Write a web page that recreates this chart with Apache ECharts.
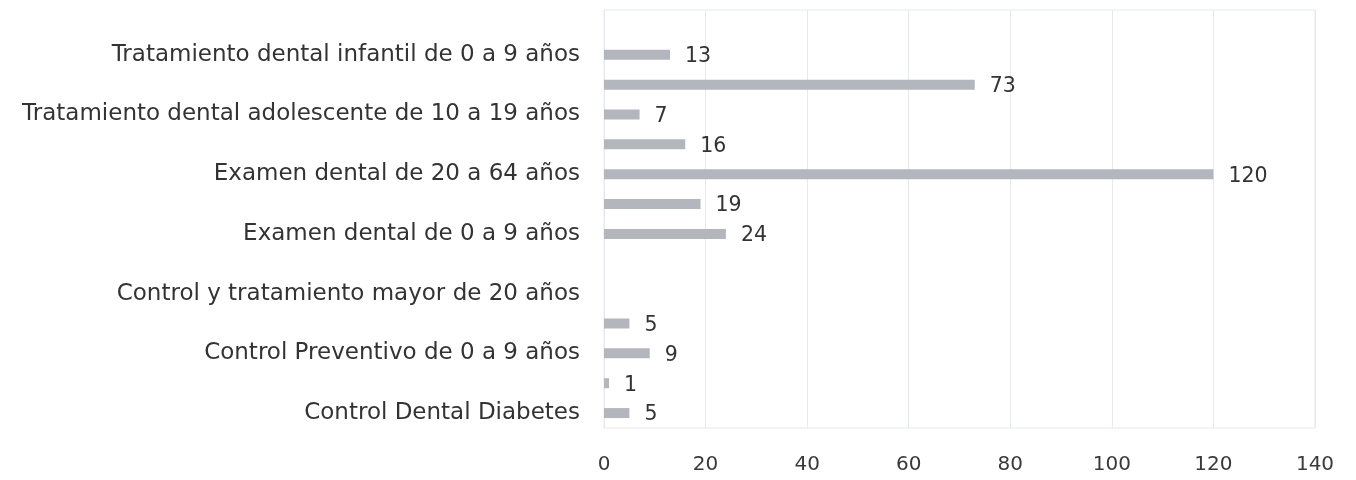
<!DOCTYPE html>
<html>
<head>
<meta charset="utf-8">
<script src="https://cdn.jsdelivr.net/npm/echarts@6/dist/echarts.min.js"></script>
<style>html,body{margin:0;padding:0;background:#fff}#c{width:1356px;height:480px}</style>
</head>
<body>
<div id="c"></div>
<script>
// categories from bottom to top
const categories = [
  "Control Dental Diabetes",
  "Control Dental Embarazadas",
  "Control Preventivo de 0 a 9 años",
  "Control Preventivo de 10 a 19 años",
  "Control y tratamiento mayor de 20 años",
  "Examen dental mayor de 65 años",
  "Examen dental de 0 a 9 años",
  "Examen dental de 10 a 19 años",
  "Examen dental de 20 a 64 años",
  "Tratamiento dental mayor de 20 años",
  "Tratamiento dental adolescente de 10 a 19 años",
  "Tratamiento dental de 20 a 64 años",
  "Tratamiento dental infantil de 0 a 9 años",
  ""
];
const values = [5, 1, 9, 5, null, null, 24, 19, 120, 16, 7, 73, 13, null];
const xTicks = { min: 0, max: 140, interval: 20 };

const chart = echarts.init(document.getElementById('c'));
chart.setOption({
  animation: false,
  backgroundColor: '#ffffff',
  textStyle: { fontFamily: 'DejaVu Sans' },
  grid: { left: 604, right: 41, top: 10, bottom: 52, show: true, borderColor: '#e6e9ee', borderWidth: 1 },
  xAxis: {
    type: 'value', min: xTicks.min, max: xTicks.max, interval: xTicks.interval,
    axisLine: { show: false }, axisTick: { show: false },
    splitLine: { lineStyle: { color: '#e6e9ee', width: 1 } },
    axisLabel: { fontSize: 20, color: '#3a3a3a', margin: 27, fontFamily: 'DejaVu Sans' }
  },
  yAxis: {
    type: 'category', data: categories,
    axisLine: { show: false }, axisTick: { show: false },
    axisLabel: { interval: 1, fontSize: 23, color: '#333333', margin: 24, fontFamily: 'DejaVu Sans' }
  },
  series: [{
    type: 'bar', data: values, barWidth: 10,
    itemStyle: { color: '#b3b6bd' },
    label: { show: true, position: 'right', distance: 15, fontSize: 20.5, color: '#333333', fontFamily: 'DejaVu Sans', offset: [0, 2] }
  }]
});
</script>
</body>
</html>
